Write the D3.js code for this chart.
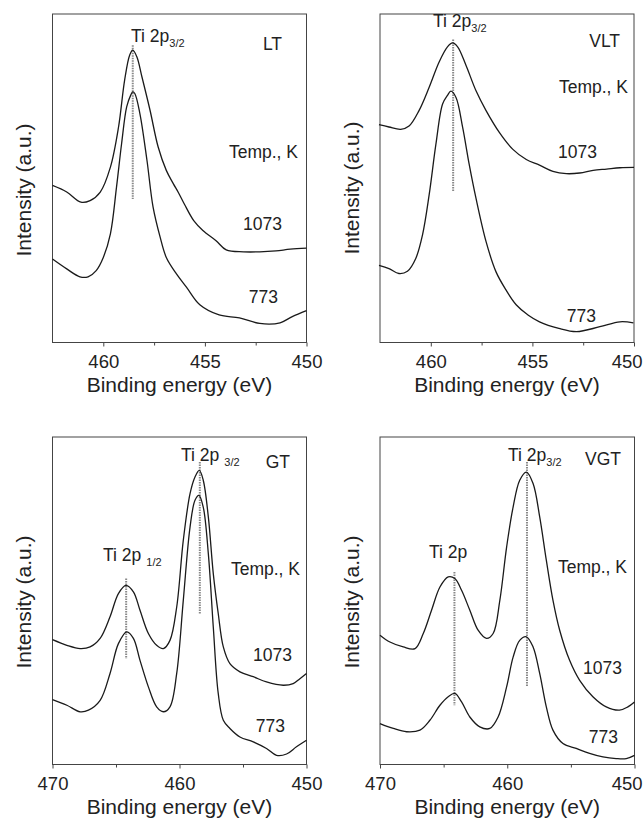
<!DOCTYPE html>
<html>
<head>
<meta charset="utf-8">
<script src="https://cdn.jsdelivr.net/npm/d3@7"></script>
<style>
  body { margin: 0; background: #fff; }
  svg { display: block; font-family: "Liberation Sans", Arial, sans-serif; }
</style>
</head>
<body>
<svg id="chart" width="643" height="818"></svg>
<script>
// 谱线数据：结合能 (eV) 与强度 (任意单位, 0~100 对应坐标框底部到顶部)

// LT
const ltE1073 = [462.5, 461.8, 461.1, 460.65, 460.15, 459.65, 459.25, 458.95, 458.7, 458.55, 458.35, 458.1, 457.7, 457.3, 456.9, 456.55, 456.3, 456.0, 455.55, 455.1, 454.45, 453.95, 453.1, 452.3, 451.5, 450.8, 450.0];
const ltI1073 = [47.8, 45.8, 42.7, 43.2, 45.8, 53.4, 65.6, 79.9, 87.5, 89.0, 87.0, 80.9, 70.7, 59.5, 52.4, 48.3, 45.6, 42.0, 37.1, 34.1, 31.0, 28.2, 27.6, 27.6, 27.9, 28.4, 28.7];
const ltE773 = [462.5, 461.8, 461.15, 460.75, 460.35, 460.0, 459.65, 459.35, 459.1, 458.85, 458.65, 458.55, 458.45, 458.2, 457.85, 457.55, 457.2, 456.9, 456.4, 455.9, 455.25, 454.3, 453.3, 452.3, 451.3, 450.7, 450.0];
const ltI773 = [25.4, 22.4, 20.0, 20.0, 21.9, 25.9, 33.1, 47.3, 60.5, 71.7, 75.3, 76.3, 75.8, 69.7, 55.4, 41.2, 32.0, 25.9, 20.9, 16.8, 11.5, 8.4, 7.5, 5.8, 6.0, 7.9, 9.7];

// VLT
const vltE1073 = [462.55, 462.06, 461.48, 461.07, 460.58, 460.08, 459.59, 459.18, 458.93, 458.68, 458.27, 457.78, 457.28, 456.62, 455.96, 455.3, 454.65, 453.99, 453.33, 452.67, 452.01, 451.35, 450.69, 450.0];
const vltI1073 = [66.3, 65.6, 64.9, 65.9, 70.6, 77.7, 85.4, 90.0, 91.2, 90.0, 84.4, 76.7, 70.6, 63.9, 58.8, 55.7, 54.0, 52.1, 51.4, 51.6, 52.4, 52.8, 53.2, 53.3];
const vltE773 = [462.55, 462.06, 461.57, 461.15, 460.74, 460.41, 460.08, 459.75, 459.42, 459.18, 459.01, 458.76, 458.43, 458.11, 457.78, 457.28, 456.79, 456.3, 455.8, 455.2, 454.65, 453.7, 452.83, 451.68, 450.69, 450.03];
const vltI773 = [23.5, 22.5, 21.0, 21.7, 25.6, 32.7, 45.0, 60.3, 72.6, 75.2, 76.5, 74.6, 65.4, 54.2, 44.0, 30.7, 21.5, 16.0, 11.5, 8.3, 6.3, 4.3, 3.3, 4.8, 6.3, 6.0];

// GT
const gtE1073 = [470.0, 468.87, 467.82, 467.04, 466.25, 465.47, 464.81, 464.21, 463.63, 463.11, 462.45, 461.8, 461.27, 460.75, 460.22, 459.7, 459.17, 458.78, 458.44, 458.13, 457.73, 457.34, 456.95, 456.55, 456.03, 455.24, 454.19, 453.15, 451.83, 451.05, 450.52, 450.0];
const gtI1073 = [38.1, 36.4, 35.4, 35.9, 38.5, 45.1, 52.2, 54.7, 52.7, 47.1, 40.0, 36.4, 35.4, 37.9, 48.1, 68.5, 82.7, 87.8, 89.8, 86.8, 75.6, 58.3, 46.1, 35.9, 30.8, 28.3, 26.8, 25.2, 24.2, 24.7, 26.2, 27.8];
const gtE773 = [470.0, 468.87, 467.82, 467.17, 466.25, 465.47, 464.81, 464.15, 463.63, 463.11, 462.45, 461.8, 461.27, 460.75, 460.22, 459.7, 459.17, 458.78, 458.47, 458.13, 457.73, 457.34, 456.95, 456.55, 456.03, 455.24, 454.19, 453.15, 452.36, 451.57, 450.79, 450.0];
const gtI773 = [19.8, 18.1, 16.1, 16.6, 19.6, 27.8, 36.9, 40.5, 38.5, 31.8, 23.7, 17.6, 16.1, 17.6, 27.8, 50.2, 72.5, 80.7, 82.2, 78.6, 64.4, 42.0, 21.7, 13.5, 11.0, 8.4, 6.9, 4.9, 2.8, 3.2, 5.4, 7.4];

// VGT
const vgtE1073 = [470.0, 469.22, 468.17, 467.25, 466.6, 465.95, 465.29, 464.64, 464.12, 463.59, 462.94, 462.29, 461.63, 461.11, 460.58, 460.05, 459.54, 459.02, 458.5, 457.97, 457.45, 456.93, 456.41, 455.88, 455.1, 454.31, 453.27, 452.22, 451.18, 450.52, 450.0];
const vgtI1073 = [39.5, 37.4, 35.9, 35.4, 40.0, 47.1, 54.2, 57.3, 56.8, 53.2, 47.1, 41.0, 38.5, 40.0, 50.2, 66.4, 78.6, 86.8, 89.3, 85.8, 75.6, 62.4, 50.2, 41.0, 31.8, 25.7, 20.7, 17.6, 16.6, 17.6, 19.1];
const vgtE773 = [470.0, 468.95, 467.91, 466.86, 466.08, 465.29, 464.64, 464.12, 463.59, 462.94, 462.16, 461.37, 460.72, 460.05, 459.54, 459.02, 458.5, 457.97, 457.45, 456.93, 456.41, 455.62, 454.58, 453.53, 452.48, 451.44, 450.65, 450.0];
const vgtI773 = [12.5, 11.0, 10.0, 10.5, 13.5, 18.1, 20.7, 21.7, 19.1, 14.5, 11.5, 11.0, 14.5, 23.7, 32.8, 37.9, 39.0, 35.9, 27.8, 17.6, 10.5, 6.4, 4.9, 3.4, 2.3, 1.8, 1.8, 2.8];

// 峰位标记 [能量, 起始强度, 结束强度]
const ltPeaks = [[458.55, 90.5, 43.7]];
const vltPeaks = [[458.9, 92.2, 46.0]];
const gtPeaks = [[464.2, 56.8, 32.3], [458.4, 92.4, 46.1]];
const vgtPeaks = [[464.15, 58.8, 18.1], [458.45, 92.4, 23.7]];

// 坐标轴
const narrowDomain = [462.5, 450];
const wideDomain = [470, 450];
const narrowTicks = [460, 455, 450];
const narrowMinor = [457.5, 452.5];
const wideTicks = [470, 460, 450];
const wideMinor = [465, 455];

const temps = ["1073", "773"];
const xTitle = "Binding energy (eV)";
const yTitle = "Intensity (a.u.)";

const pts = (e, v) => e.map((d, i) => [d, v[i]]);

// 面板布局 (像素)
const panels = [
  {
    name: "LT", left: 52.5, top: 14, width: 254, height: 328.5,
    domain: narrowDomain, ticks: narrowTicks, minor: narrowMinor,
    curves: [pts(ltE1073, ltI1073), pts(ltE773, ltI773)], peaks: ltPeaks,
    yTitleY: 176, clipLast: false,
    name_: [229.5, 36], temp: [245.5, 144], t1073: [229.5, 216], t773: [225.5, 289],
    peakLabels: [{ x: 78.5, y: 28, main: "Ti 2p", sub: "3/2", gap: 0 }]
  },
  {
    name: "VLT", left: 380, top: 14, width: 254, height: 328.5,
    domain: narrowDomain, ticks: narrowTicks, minor: narrowMinor,
    curves: [pts(vltE1073, vltI1073), pts(vltE773, vltI773)], peaks: vltPeaks,
    yTitleY: 174, clipLast: true,
    name_: [240, 33], temp: [248, 79], t1073: [217, 144], t773: [216, 308],
    peakLabels: [{ x: 53, y: 13, main: "Ti 2p", sub: "3/2", gap: 0 }]
  },
  {
    name: "GT", left: 52.5, top: 437, width: 254, height: 327.5,
    domain: wideDomain, ticks: wideTicks, minor: wideMinor,
    curves: [pts(gtE1073, gtI1073), pts(gtE773, gtI773)], peaks: gtPeaks,
    yTitleY: 165, clipLast: false,
    name_: [237.5, 31], temp: [247.5, 138], t1073: [239.5, 224], t773: [232.5, 295],
    peakLabels: [
      { x: 128.5, y: 24, main: "Ti 2p", sub: "3/2", gap: 5 },
      { x: 50.5, y: 124, main: "Ti 2p", sub: "1/2", gap: 5 }
    ]
  },
  {
    name: "VGT", left: 380, top: 437, width: 254.5, height: 327.5,
    domain: wideDomain, ticks: wideTicks, minor: wideMinor,
    curves: [pts(vgtE1073, vgtI1073), pts(vgtE773, vgtI773)], peaks: vgtPeaks,
    yTitleY: 165, clipLast: true,
    name_: [241, 28], temp: [247, 136], t1073: [242, 237], t773: [238, 306],
    peakLabels: [
      { x: 128, y: 24, main: "Ti 2p", sub: "3/2", gap: 0 },
      { x: 49, y: 121, main: "Ti 2p", sub: "", gap: 0 }
    ]
  }
];

const svg = d3.select("#chart");
const ink = "#222";

function drawPanel(p) {
  const g = svg.append("g")
    .attr("transform", `translate(${p.left}, ${p.top})`);

  const x = d3.scaleLinear().domain(p.domain).range([0, p.width]);
  const y = d3.scaleLinear().domain([0, 100]).range([p.height, 0]);

  // 主刻度
  const axis = g.append("g")
    .attr("transform", `translate(0, ${p.height})`)
    .call(d3.axisBottom(x).tickValues(p.ticks).tickSize(4).tickSizeOuter(0).tickPadding(8.5).tickFormat(d3.format("d")));
  axis.select(".domain").remove();
  axis.selectAll("line").attr("stroke", "#444");
  axis.selectAll("text")
    .attr("fill", ink)
    .style("font-size", "18.5px")
    .style("font-family", "'Liberation Sans', Arial, sans-serif");

  // 右侧面板的最后一个刻度标签贴着画布边缘，右对齐避免被裁掉
  if (p.clipLast) {
    axis.selectAll(".tick text")
      .filter(d => d === p.domain[1])
      .attr("text-anchor", "end")
      .attr("x", 643 - p.left - p.width - 1);
  }

  // 次刻度
  const minorAxis = g.append("g")
    .attr("transform", `translate(0, ${p.height})`)
    .call(d3.axisBottom(x).tickValues(p.minor).tickSize(3).tickSizeOuter(0).tickFormat(""));
  minorAxis.select(".domain").remove();
  minorAxis.selectAll("line").attr("stroke", "#444");

  // 坐标框
  g.append("rect")
    .attr("width", p.width)
    .attr("height", p.height)
    .attr("fill", "none")
    .attr("stroke", "#444")
    .attr("stroke-width", 1);

  // 峰位虚线
  g.selectAll("line.peak")
    .data(p.peaks)
    .enter()
    .append("line")
    .attr("class", "peak")
    .attr("x1", d => x(d[0]))
    .attr("x2", d => x(d[0]))
    .attr("y1", d => y(d[1]))
    .attr("y2", d => y(d[2]))
    .attr("stroke", "#888")
    .attr("stroke-width", 2)
    .attr("stroke-dasharray", "1.5,1");

  // 谱线
  const line = d3.line()
    .x(d => x(d[0]))
    .y(d => y(d[1]))
    .curve(d3.curveCatmullRom.alpha(0.5));

  g.selectAll("path.spec")
    .data(p.curves)
    .enter()
    .append("path")
    .attr("class", "spec")
    .attr("d", line)
    .attr("fill", "none")
    .attr("stroke", "#1a1a1a")
    .attr("stroke-width", 1.3);

  // 文字
  const label = (pos, txt, anchor) => g.append("text")
    .attr("x", pos[0])
    .attr("y", pos[1])
    .attr("text-anchor", anchor || "end")
    .attr("fill", ink)
    .style("font-size", "17.5px")
    .text(txt);

  label(p.name_, p.name);
  label(p.temp, "Temp., K");
  label(p.t1073, temps[0]);
  label(p.t773, temps[1]);

  p.peakLabels.forEach(function (pl) {
    const t = g.append("text")
      .attr("x", pl.x)
      .attr("y", pl.y)
      .attr("fill", ink)
      .style("font-size", "17.5px");
    t.append("tspan").text(pl.main);
    if (pl.sub) {
      t.append("tspan")
        .attr("dx", pl.gap)
        .attr("dy", 4.5)
        .style("font-size", "11px")
        .text(pl.sub);
    }
  });

  // 轴标题
  g.append("text")
    .attr("x", p.width / 2)
    .attr("y", p.height + 49)
    .attr("text-anchor", "middle")
    .attr("fill", ink)
    .style("font-size", "21px")
    .text(xTitle);

  g.append("text")
    .attr("transform", `translate(${-28.5}, ${p.yTitleY}) rotate(-90)`)
    .attr("text-anchor", "middle")
    .attr("dy", "0.35em")
    .attr("fill", ink)
    .style("font-size", "21px")
    .text(yTitle);
}

panels.forEach(drawPanel);
</script>
</body>
</html>
